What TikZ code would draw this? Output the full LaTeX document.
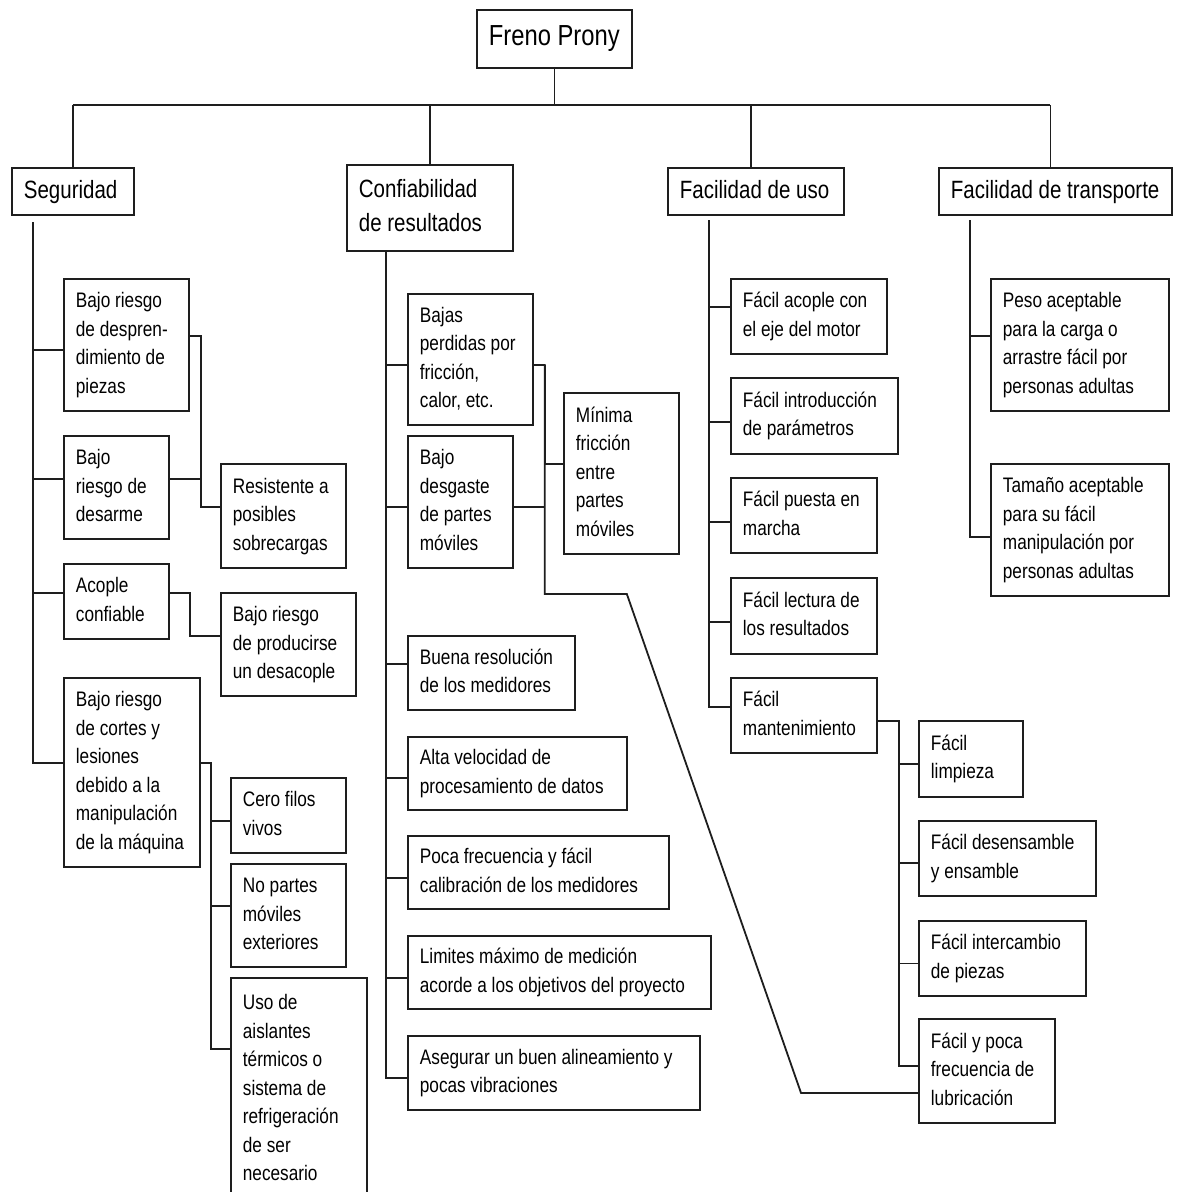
\documentclass[tikz,border=0pt]{standalone}
\usepackage{fontspec}
\setmainfont[FakeStretch=0.82]{Liberation Sans}
\definecolor{lc}{RGB}{30,30,30}
\newcommand\mkbox[7][itembox]{%
  \pgfmathsetmacro\bxw{#5-#3-24}%
  \pgfmathsetmacro\bxh{#6-#4}%
  \node[#1, minimum height=\bxh pt] (#2) at (#3,#4)
    {\makebox[\bxw pt][l]{\begin{tabular}{@{}l@{}}#7\end{tabular}}};%
}
\tikzset{
  itembox/.style={draw=lc, line width=1.8pt, anchor=north west, inner xsep=12pt,
    inner ysep=0pt, text=black, font=\fontsize{21}{28.5}\selectfont},
  catbox/.style={itembox, font=\fontsize{25}{34}\selectfont},
  rootbox/.style={itembox, font=\fontsize{29}{35}\selectfont},
  conn/.style={draw=lc, line width=1.8pt},
}
\begin{document}
\begin{tikzpicture}[x=1pt, y=-1pt]
\fill[white] (0,0) rectangle (1177,1192);
\useasboundingbox (0,0) rectangle (1177,1192);

% root and categories
\mkbox[rootbox]{root}{476}{9}{631}{67}{Freno Prony}
\mkbox[catbox]{seg}{11}{167}{133}{214}{Seguridad}
\mkbox[catbox]{con}{346}{164}{512}{250}{Confiabilidad\\de resultados}
\mkbox[catbox]{uso}{667}{167}{843}{214}{Facilidad de uso}
\mkbox[catbox]{tra}{938}{167}{1171}{214}{Facilidad de transporte}

\coordinate (bus) at (0,105);
\draw[conn] (root.south) -- (root.south |- bus);
\draw[conn] (seg.north |- bus) -- ([xshift=-5pt]tra.north |- bus);
\draw[conn] (seg.north) -- (seg.north |- bus);
\draw[conn] (con.north) -- (con.north |- bus);
\draw[conn] ([xshift=-5pt]uso.north) -- ([xshift=-5pt]uso.north |- bus);
\draw[conn] ([xshift=-5pt]tra.north) -- ([xshift=-5pt]tra.north |- bus);

% ---------------- Seguridad
\mkbox{s1}{63}{278}{188}{410}{Bajo riesgo\\de despren-\\dimiento de\\piezas}
\mkbox{s2}{63}{435}{168}{538}{Bajo\\riesgo de\\desarme}
\mkbox{s3}{63}{563}{168}{638}{Acople\\confiable}
\mkbox{s4}{63}{677}{199}{866}{Bajo riesgo\\de cortes y\\lesiones\\debido a la\\manipulación\\de la máquina}
\mkbox{r1}{220}{463}{345}{567}{Resistente a\\posibles\\sobrecargas}
\mkbox{r2}{220}{592}{355}{695}{Bajo riesgo\\de producirse\\un desacople}
\mkbox{c1}{230}{777}{345}{852}{Cero filos\\vivos}
\mkbox{c2}{230}{863}{345}{966}{No partes\\móviles\\exteriores}
\mkbox{c3}{230}{977}{366}{1200}{Uso de\\aislantes\\térmicos o\\sistema de\\refrigeración\\de ser\\necesario}

\coordinate (segT) at (33,222);
\draw[conn] (segT) |- ([yshift=-5pt]s1.west);
\draw[conn] (segT) |- ([yshift=8.5pt]s2.west);
\draw[conn] (segT) |- ([yshift=8.5pt]s3.west);
\draw[conn] (segT) |- ([yshift=9.5pt]s4.west);
\draw[conn] ([yshift=9pt]s1.east) -- ++(11,0) |- ([yshift=9pt]r1.west);
\draw[conn] ([yshift=8.5pt]s2.east) -- ++(31,0);
\draw[conn] ([yshift=8.5pt]s3.east) -- ++(20,0) |- ([yshift=8.5pt]r2.west);
\draw[conn] ([yshift=9.5pt]s4.east) -- ++(10,0) coordinate (j4) |- ([yshift=40.5pt]c3.west);
\draw[conn] (j4) |- ([yshift=-5.5pt]c1.west);
\draw[conn] (j4) |- ([yshift=9.5pt]c2.west);

% ---------------- Confiabilidad
\mkbox{k1}{407}{293}{532}{424}{Bajas\\perdidas por\\fricción,\\calor, etc.}
\mkbox{k2}{407}{435}{512}{567}{Bajo\\desgaste\\de partes\\móviles}
\mkbox{m1}{563}{392}{678}{553}{Mínima\\fricción\\entre\\partes\\móviles}
\mkbox{k3}{407}{635}{574}{709}{Buena resolución\\de los medidores}
\mkbox{k4}{407}{736}{626}{809}{Alta velocidad de\\procesamiento de datos}
\mkbox{k5}{407}{835}{668}{908}{Poca frecuencia y fácil\\calibración de los medidores}
\mkbox{k6}{407}{935}{710}{1008}{Limites máximo de medición\\acorde a los objetivos del proyecto}
\mkbox{k7}{407}{1035}{699}{1109}{Asegurar un buen alineamiento y\\pocas vibraciones}

\coordinate (conT) at (386,250);
\draw[conn] (conT) |- ([yshift=-5.5pt]k1.west);
\draw[conn] (conT) |- ([yshift=-5pt]k2.west);
\draw[conn] (conT) |- ([yshift=9pt]k3.west);
\draw[conn] (conT) |- ([yshift=-4.5pt]k4.west);
\draw[conn] (conT) |- ([yshift=-5.5pt]k5.west);
\draw[conn] (conT) |- ([yshift=-5.5pt]k6.west);
\draw[conn] (conT) |- ([yshift=-5pt]k7.west);

% ---------------- Facilidad de uso
\mkbox{u1}{730}{278}{886}{353}{Fácil acople con\\el eje del motor}
\mkbox{u2}{730}{377}{897}{453}{Fácil introducción\\de parámetros}
\mkbox{u3}{730}{477}{876}{552}{Fácil puesta en\\marcha}
\mkbox{u4}{730}{577}{876}{653}{Fácil lectura de\\los resultados}
\mkbox{u5}{730}{677}{876}{752}{Fácil\\mantenimiento}
\mkbox{v1}{918}{720}{1022}{796}{Fácil\\limpieza}
\mkbox{v2}{918}{820}{1095}{895}{Fácil desensamble\\y ensamble}
\mkbox{v3}{918}{920}{1085}{995}{Fácil intercambio\\de piezas}
\mkbox{v4}{918}{1018}{1054}{1122}{Fácil y poca\\frecuencia de\\lubricación}

\coordinate (usoT) at (709,220);
\draw[conn] (usoT) |- ([yshift=9.5pt]u1.west);
\draw[conn] (usoT) |- ([yshift=-6pt]u2.west);
\draw[conn] (usoT) |- ([yshift=-6.5pt]u3.west);
\draw[conn] (usoT) |- ([yshift=-6pt]u4.west);
\draw[conn] (usoT) |- ([yshift=8.5pt]u5.west);
\draw[conn] ([yshift=-5.5pt]u5.east) -- ++(21,0) coordinate (j5) |- ([yshift=5pt]v4.west);
\draw[conn] (j5) |- ([yshift=-5pt]v1.west);
\draw[conn] (j5) |- ([yshift=-4.5pt]v2.west);
\draw[conn] (j5) |- ([yshift=-5pt]v3.west);

% link between Confiabilidad and lubricación
\draw[conn] ([yshift=-5.5pt]k1.east) -- ++(11,0) coordinate (jm) -- ++(0,229) -- ++(82,0)
  -- ([xshift=-117pt,yshift=-22pt]v4.west) -- ([yshift=-22pt]v4.west);
\draw[conn] ([yshift=-5pt]k2.east) -- ++(31,0);
\draw[conn] (jm) |- ([yshift=9.5pt]m1.west);

% ---------------- Facilidad de transporte
\mkbox{t1}{990}{278}{1168}{410}{Peso aceptable\\para la carga o\\arrastre fácil por\\personas adultas}
\mkbox{t2}{990}{463}{1168}{595}{Tamaño aceptable\\para su fácil\\manipulación por\\personas adultas}

\coordinate (traT) at (970,220);
\draw[conn] (traT) |- ([yshift=9pt]t1.west);
\draw[conn] (traT) |- ([yshift=-7pt]t2.west);
\end{tikzpicture}
\end{document}
